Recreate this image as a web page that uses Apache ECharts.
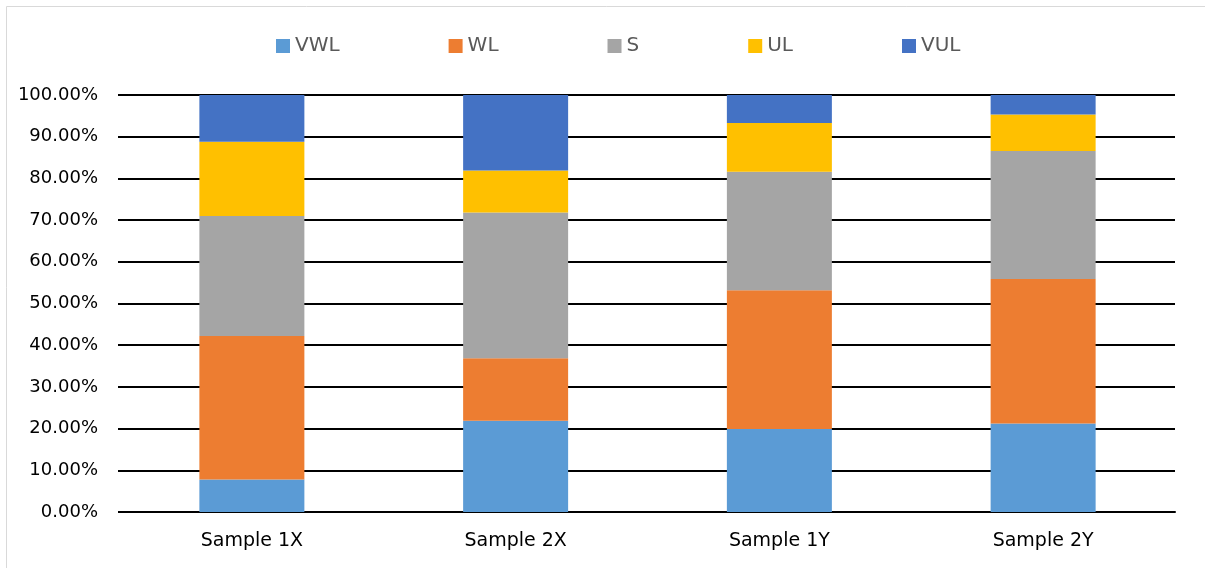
<!DOCTYPE html>
<html>
<head>
<meta charset="utf-8">
<script src="https://cdn.jsdelivr.net/npm/echarts@6/dist/echarts.min.js"></script>
<style>
  html, body { margin: 0; padding: 0; background: #fff; }
  #chart { width: 1205px; height: 568px; }
</style>
</head>
<body>
<div id="chart"></div>
<script>
// Sample categories along the x axis
const categories = ['Sample 1X', 'Sample 2X', 'Sample 1Y', 'Sample 2Y'];

// Share of each class per sample, in percent (stacks sum to 100)
const vwl = [7.8, 21.9, 19.9, 21.2];
const wl  = [34.4, 15.0, 33.3, 34.7];
const s   = [28.8, 34.9, 28.4, 30.7];
const ul  = [17.8, 10.1, 11.7, 8.7];
const vul = [11.2, 18.1, 6.7, 4.7];

const seriesNames = ['VWL', 'WL', 'S', 'UL', 'VUL'];
const seriesData = [vwl, wl, s, ul, vul];
const colors = ['#5B9BD5', '#ED7D31', '#A5A5A5', '#FFC000', '#4472C4'];

const font = 'DejaVu Sans';

const chart = echarts.init(document.getElementById('chart'));

chart.setOption({
  animation: false,
  color: colors,
  grid: { left: 120, right: 30, top: 95, bottom: 56 },
  // light frame on the top and left edges of the chart area
  graphic: [{
    type: 'rect',
    shape: { x: 6.5, y: 6.5, width: 1260, height: 620 },
    style: { fill: 'none', stroke: '#d9d9d9', lineWidth: 1 },
    silent: true
  }],
  legend: {
    data: seriesNames,
    left: 276,
    top: 36,
    padding: 0,
    itemWidth: 14,
    itemHeight: 14,
    itemGap: 109,
    icon: 'rect',
    textStyle: { fontFamily: font, fontSize: 20, color: '#595959' }
  },
  xAxis: {
    type: 'category',
    data: categories,
    axisLine: { lineStyle: { color: '#000', width: 2 } },
    axisTick: { show: false },
    axisLabel: { fontFamily: font, fontSize: 19, color: '#000', margin: 20 }
  },
  yAxis: {
    type: 'value',
    min: 0,
    max: 100,
    interval: 10,
    axisLine: { show: false },
    axisTick: { show: true, length: 2, lineStyle: { color: '#000', width: 2 } },
    axisLabel: {
      fontFamily: font, fontSize: 18, color: '#000', margin: 22,
      formatter: v => v.toFixed(2) + '%'
    },
    splitLine: { lineStyle: { color: '#000', width: 2 } }
  },
  series: seriesNames.map((name, i) => ({
    name: name,
    type: 'bar',
    stack: 'total',
    barWidth: 105,
    data: seriesData[i],
    itemStyle: { color: colors[i] }
  }))
});
</script>
</body>
</html>
